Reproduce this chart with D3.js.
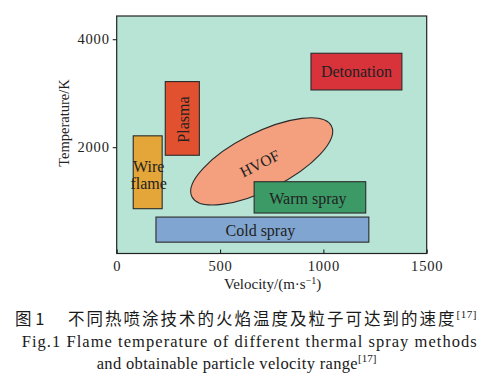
<!DOCTYPE html>
<html><head><meta charset="utf-8">
<script src="https://cdn.jsdelivr.net/npm/d3@7"></script>
<style>body{margin:0;background:#fff}svg{display:block}</style>
</head><body><svg id="c" width="488" height="385"></svg>
<script>
const methods = ["Wire flame", "Plasma", "Detonation", "Cold spray", "Warm spray"];
const vMin = [80, 235, 940, 190, 665];
const vMax = [220, 400, 1380, 1220, 1205];
const tMin = [860, 1850, 3060, 240, 780];
const tMax = [2210, 3215, 3740, 705, 1360];
const colors = ["#e4a638", "#e2512f", "#d8323b", "#80a5d0", "#3b9a66"];
// HVOF ellipse: ends of major axis (velocity, temperature) and minor/major ratio
const hvofV = [364, 1039];
const hvofT = [1083, 2391];
const hvofRatio = 0.366;
const xTicks = [0, 500, 1000, 1500];
const yTicks = [2000, 4000];

const svg = d3.select("#c");
const L = 116.7, R = 426.7, T = 16, B = 253.5;
const x = d3.scaleLinear().domain([0, 1500]).range([L, R]);
const y = d3.scaleLinear().domain([30, 4430]).range([B, T]);
const serif = "'Liberation Serif','Times New Roman',serif";

svg.append("rect").attr("x", L).attr("y", T).attr("width", R - L).attr("height", B - T).attr("fill", "#b8e4d6");

const g = svg.append("g");
function drawBox(i) {
  g.append("rect").attr("x", x(vMin[i])).attr("y", y(tMax[i]))
    .attr("width", x(vMax[i]) - x(vMin[i])).attr("height", y(tMin[i]) - y(tMax[i]))
    .attr("fill", colors[i]).attr("stroke", "#2b2b2b").attr("stroke-width", 1.1);
}
[0, 1, 2, 3].forEach(drawBox);

// HVOF ellipse
const ex0 = x(hvofV[0]), ey0 = y(hvofT[0]), ex1 = x(hvofV[1]), ey1 = y(hvofT[1]);
const ecx = (ex0 + ex1) / 2, ecy = (ey0 + ey1) / 2;
const ea = Math.hypot(ex1 - ex0, ey1 - ey0) / 2;
const eang = Math.atan2(ey1 - ey0, ex1 - ex0) * 180 / Math.PI;
g.append("ellipse").attr("cx", 0).attr("cy", 0).attr("rx", ea).attr("ry", ea * hvofRatio)
  .attr("transform", `translate(${ecx},${ecy}) rotate(${eang})`)
  .attr("fill", "#f4a07f").attr("stroke", "#2b2b2b").attr("stroke-width", 1.1);
g.append("text").attr("transform", `translate(${ecx - 2},${ecy + 2}) rotate(${eang})`)
  .attr("text-anchor", "middle").attr("dominant-baseline", "central")
  .attr("font-family", serif).attr("font-size", 15.5).attr("fill", "#222").text("HVOF");

drawBox(4);

// labels
function cx(i) { return (x(vMin[i]) + x(vMax[i])) / 2; }
function cy(i) { return (y(tMin[i]) + y(tMax[i])) / 2; }
const lab = (t, px, py, rot) => g.append("text")
  .attr("transform", `translate(${px},${py})` + (rot ? ` rotate(${rot})` : ""))
  .attr("text-anchor", "middle").attr("dominant-baseline", "central")
  .attr("font-family", serif).attr("font-size", 16).attr("fill", "#222").text(t);
lab("Detonation", cx(2), cy(2), 0);
lab("Plasma", cx(1) + 1, y(tMax[1]) + 38, -90);
lab("Wire", cx(0) + 1, cy(0) - 6, 0);
lab("flame", cx(0) + 1, cy(0) + 11, 0);
lab("Cold spray", cx(3) - 2, cy(3) + 1, 0);
lab("Warm spray", cx(4) - 2, cy(4) + 1, 0);

// frame
svg.append("rect").attr("x", L).attr("y", T).attr("width", R - L).attr("height", B - T)
  .attr("fill", "none").attr("stroke", "#222").attr("stroke-width", 1.2);

// x axis ticks (inward)
const xa = svg.append("g").attr("transform", `translate(0,${B})`)
  .call(d3.axisBottom(x).tickValues(xTicks).tickFormat(d3.format("d")).tickSizeInner(-4).tickSizeOuter(0).tickPadding(7));
xa.select(".domain").remove();
xa.selectAll("line").attr("stroke", "#222").attr("stroke-width", 1.1);
xa.selectAll("text").attr("font-family", serif).attr("font-size", 14.5).attr("fill", "#222")
  .attr("letter-spacing", "0.8px");

// y axis ticks (outward)
const ya = svg.append("g").attr("transform", `translate(${L},0)`)
  .call(d3.axisLeft(y).tickValues(yTicks).tickFormat(d3.format("d")).tickSizeInner(4).tickSizeOuter(0).tickPadding(3));
ya.select(".domain").remove();
ya.selectAll("line").attr("stroke", "#222").attr("stroke-width", 1.1);
ya.selectAll("text").attr("font-family", serif).attr("font-size", 14.5).attr("fill", "#222")
  .attr("letter-spacing", "0.8px");

// axis titles
const xt = svg.append("text").attr("x", (L + R) / 2 + 1).attr("y", 289).attr("text-anchor", "middle")
  .attr("font-family", serif).attr("font-size", 15).attr("fill", "#222");
xt.append("tspan").text("Velocity/(m·s");
xt.append("tspan").attr("font-size", 10).attr("dy", -5).text("−1");
xt.append("tspan").attr("dy", 5).text(")");

svg.append("text").attr("transform", "translate(69,123) rotate(-90)").attr("text-anchor", "middle")
  .attr("font-family", serif).attr("font-size", 14.5).attr("fill", "#222").text("Temperature/K");

// caption
const cap = svg.append("g").attr("fill", "#1a1a1a");
cap.append("text").attr("x", 15).attr("y", 325).attr("font-family", "'Noto Sans CJK SC',sans-serif")
  .attr("font-size", 16.5).text("图 1");
const c1 = cap.append("text").attr("x", 68).attr("y", 325).attr("font-family", "'Noto Sans CJK SC',sans-serif")
  .attr("font-size", 16.5).attr("letter-spacing", "2px");
c1.append("tspan").text("不同热喷涂技术的火焰温度及粒子可达到的速度");
c1.append("tspan").attr("font-family", serif).attr("font-size", 11).attr("dy", -7).attr("letter-spacing", "0.5px").text("[17]");

cap.append("text").attr("x", 21.7).attr("y", 347).attr("font-family", serif)
  .attr("font-size", 16.5).attr("textLength", 455).attr("lengthAdjust", "spacing")
  .text("Fig.1 Flame temperature of different thermal spray methods");
const c3 = cap.append("text").attr("x", 96.7).attr("y", 369).attr("font-family", serif)
  .attr("font-size", 16.5);
c3.append("tspan").attr("textLength", 261).attr("lengthAdjust", "spacing").text("and obtainable particle velocity range");
c3.append("tspan").attr("font-size", 11).attr("dy", -7).text("[17]");
</script></body></html>
